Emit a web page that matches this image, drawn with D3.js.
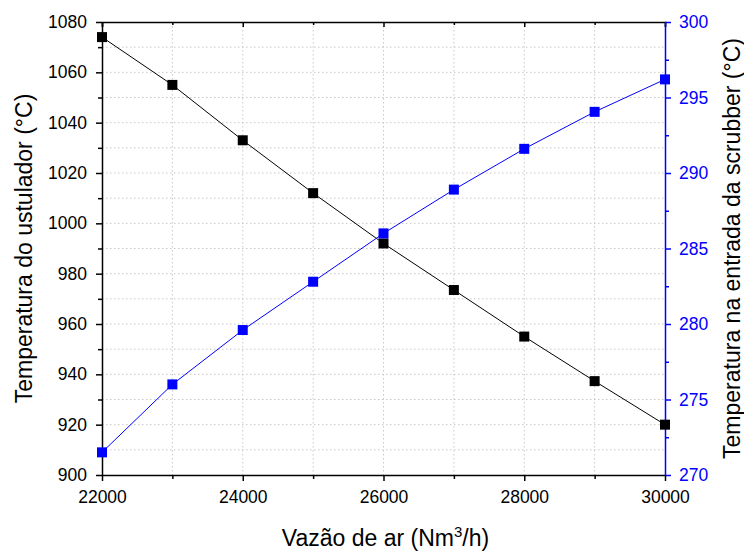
<!DOCTYPE html>
<html>
<head>
  <meta charset="utf-8">
  <title>Temperatura vs vazão de ar</title>
  <script src="https://cdn.jsdelivr.net/npm/d3@7"></script>
  <style>
    body { margin: 0; background: #fff; }
    svg text { font-family: "Liberation Sans", Arial, sans-serif; }
    .grid line { stroke: #c8c8c8; stroke-dasharray: 1.5 2.5; stroke-width: 1; }
  </style>
</head>
<body>
<div id="chart"></div>
<script>
  const vazao = [22000, 23000, 24000, 25000, 26000, 27000, 28000, 29000, 30000];
  const tempUstulador = [1074, 1055, 1033, 1012, 992, 973.5, 955, 937.3, 920];
  const tempScrubber = [271.5, 276, 279.6, 282.8, 286, 288.9, 291.6, 294.05, 296.2];
  const xTicks = [22000, 24000, 26000, 28000, 30000];
  const leftTicks = [900, 920, 940, 960, 980, 1000, 1020, 1040, 1060, 1080];
  const rightTicks = [270, 275, 280, 285, 290, 295, 300];

  const width = 744, height = 552;
  const margin = { top: 22, right: 79, bottom: 77, left: 102 };
  const iw = width - margin.left - margin.right;
  const ih = height - margin.top - margin.bottom;
  const blue = '#0000ff';

  const svg = d3.select('#chart').append('svg')
    .attr('width', width).attr('height', height);
  const g = svg.append('g').attr('transform', `translate(${margin.left},${margin.top})`);

  const x = d3.scaleLinear().domain([22000, 30000]).range([0, iw]);
  const yL = d3.scaleLinear().domain([900, 1080]).range([ih, 0]);
  const yR = d3.scaleLinear().domain([270, 300]).range([ih, 0]);

  // grid (major + minor)
  g.append('g').attr('class', 'grid')
    .selectAll('line').data(d3.range(23000, 30000, 1000)).join('line')
      .attr('x1', d => x(d)).attr('x2', d => x(d)).attr('y1', 0).attr('y2', ih);
  g.append('g').attr('class', 'grid')
    .selectAll('line').data(d3.range(910, 1080, 10)).join('line')
      .attr('x1', 0).attr('x2', iw).attr('y1', d => yL(d)).attr('y2', d => yL(d));

  const tickFont = g => g.selectAll('text').style('font-size', '17.5px');

  // bottom axis
  g.append('g').attr('transform', `translate(0,${ih})`)
    .call(d3.axisBottom(x).tickValues(xTicks).tickFormat(d3.format('d')).tickSize(6).tickPadding(10).tickSizeOuter(0))
    .call(tickFont);
  g.append('g').attr('transform', `translate(0,${ih})`)
    .call(d3.axisBottom(x).tickValues(d3.range(23000, 30000, 2000)).tickFormat('').tickSize(4))
    .call(a => a.select('.domain').remove());

  // top axis (inward ticks)
  g.append('g')
    .call(d3.axisBottom(x).tickValues(xTicks).tickFormat('').tickSizeOuter(0).tickSize(5));
  g.append('g')
    .call(d3.axisBottom(x).tickValues(d3.range(23000, 30000, 2000)).tickFormat('').tickSize(3))
    .call(a => a.select('.domain').remove());

  // left axis
  g.append('g')
    .call(d3.axisLeft(yL).tickValues(leftTicks).tickFormat(d3.format('d')).tickSize(6).tickPadding(9).tickSizeOuter(0))
    .call(tickFont);
  g.append('g')
    .call(d3.axisLeft(yL).tickValues(d3.range(910, 1080, 20)).tickFormat('').tickSize(4))
    .call(a => a.select('.domain').remove());
  g.selectAll('.domain, .tick line').attr('stroke-width', 1.5);

  // right axis (blue)
  const rAxis = g.append('g').attr('transform', `translate(${iw},0)`)
    .call(d3.axisRight(yR).tickValues(rightTicks).tickSize(6).tickPadding(8).tickSizeOuter(0))
    .call(tickFont);
  const rMinor = g.append('g').attr('transform', `translate(${iw},0)`)
    .call(d3.axisRight(yR).tickValues(d3.range(272.5, 300, 5)).tickFormat('').tickSize(4))
    .call(a => a.select('.domain').remove());
  [rAxis, rMinor].forEach(a => a.selectAll('.domain, line').attr('stroke', blue).attr('stroke-width', 1.5));
  rAxis.selectAll('text').attr('fill', blue);

  // series
  const line = yScale => d3.line().x((d, i) => x(vazao[i])).y(d => yScale(d));
  g.append('path').datum(tempUstulador).attr('d', line(yL))
    .attr('fill', 'none').attr('stroke', '#000').attr('stroke-width', 1);
  g.append('path').datum(tempScrubber).attr('d', line(yR))
    .attr('fill', 'none').attr('stroke', blue).attr('stroke-width', 1);
  const s = 10;
  g.append('g').selectAll('rect').data(tempUstulador).join('rect')
    .attr('x', (d, i) => x(vazao[i]) - s / 2).attr('y', d => yL(d) - s / 2)
    .attr('width', s).attr('height', s).attr('fill', '#000');
  g.append('g').selectAll('rect').data(tempScrubber).join('rect')
    .attr('x', (d, i) => x(vazao[i]) - s / 2).attr('y', d => yR(d) - s / 2)
    .attr('width', s).attr('height', s).attr('fill', blue);

  // titles
  const xt = svg.append('text').attr('x', margin.left + iw / 2 + 2).attr('y', 546)
    .attr('text-anchor', 'middle').style('font-size', '23px');
  xt.append('tspan').text('Vazão de ar (Nm');
  xt.append('tspan').attr('dy', -9).style('font-size', '15px').text('3');
  xt.append('tspan').attr('dy', 9).text('/h)');
  svg.append('text').attr('transform', `translate(32,${margin.top + ih / 2}) rotate(-90)`)
    .attr('text-anchor', 'middle').style('font-size', '23px').text('Temperatura do ustulador (°C)');
  svg.append('text').attr('transform', `translate(740,${margin.top + ih / 2}) rotate(-90)`)
    .attr('text-anchor', 'middle').style('font-size', '23px').text('Temperatura na entrada da scrubber (°C)');
</script>
</body>
</html>
